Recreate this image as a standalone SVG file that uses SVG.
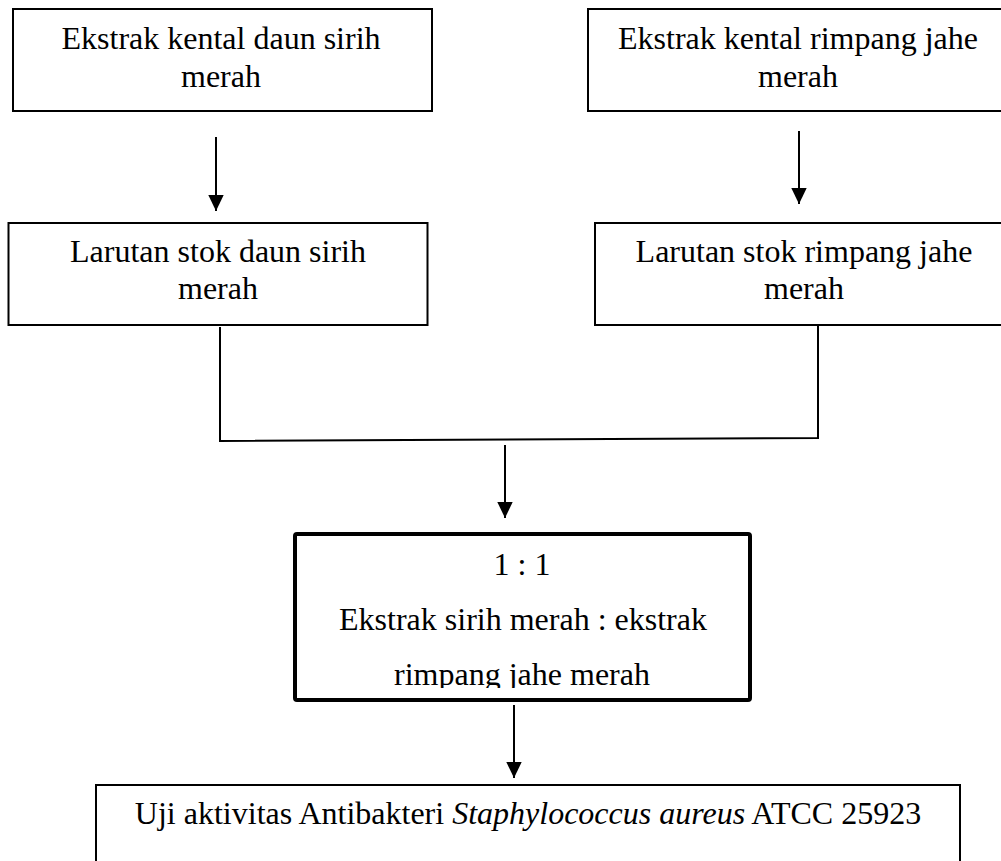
<svg xmlns="http://www.w3.org/2000/svg" width="1001" height="861" viewBox="0 0 1001 861">
  <style>
    .box { fill: #fff; stroke: #000; stroke-width: 2; }
    .thick { fill: #fff; stroke: #000; stroke-width: 4; }
    .t { font-family: "Liberation Serif", "Times New Roman", serif; font-size: 32px; fill: #000; text-anchor: middle; }
    .conn { fill: none; stroke: #000; stroke-width: 2; }
  </style>
  <defs>
    <marker id="arr" viewBox="0 0 16 16" refX="16" refY="8" markerWidth="16" markerHeight="16" markerUnits="userSpaceOnUse" orient="auto">
      <path d="M0,0.3 L16,8 L0,15.7 z" fill="#000"/>
    </marker>
    <clipPath id="clip5">
      <rect x="296" y="536" width="451" height="152"/>
    </clipPath>
  </defs>
  <rect width="1001" height="861" fill="#fff"/>

  <g id="connectors">
    <line class="conn" x1="216" y1="137" x2="216" y2="211" marker-end="url(#arr)"/>
    <line class="conn" x1="799" y1="131" x2="799" y2="204" marker-end="url(#arr)"/>
    <polyline class="conn" points="220,327 220,441 818,438 818,323"/>
    <line class="conn" x1="505" y1="445" x2="505" y2="518" marker-end="url(#arr)"/>
    <line class="conn" x1="514" y1="705" x2="514" y2="778" marker-end="url(#arr)"/>
  </g>

  <g id="node-ekstrak-sirih">
    <rect class="box" x="13" y="9" width="419" height="102"/>
    <text class="t" x="221" y="49">Ekstrak kental daun sirih</text>
    <text class="t" x="221" y="87">merah</text>
  </g>

  <g id="node-ekstrak-jahe">
    <rect class="box" x="588" y="9" width="420" height="102"/>
    <text class="t" x="798" y="49">Ekstrak kental rimpang jahe</text>
    <text class="t" x="798" y="87">merah</text>
  </g>

  <g id="node-larutan-sirih">
    <rect class="box" x="8.5" y="223" width="419" height="102"/>
    <text class="t" x="218" y="262">Larutan stok daun sirih</text>
    <text class="t" x="218" y="299">merah</text>
  </g>

  <g id="node-larutan-jahe">
    <rect class="box" x="595" y="223" width="420" height="102"/>
    <text class="t" x="804" y="262">Larutan stok rimpang jahe</text>
    <text class="t" x="804" y="299">merah</text>
  </g>

  <g id="node-campuran">
    <rect class="thick" x="295" y="534" width="455" height="166" rx="2"/>
    <text class="t" x="522" y="575">1 : 1</text>
    <text class="t" x="523" y="630">Ekstrak sirih merah : ekstrak</text>
    <text class="t" x="522" y="685" clip-path="url(#clip5)">rimpang jahe merah</text>
  </g>

  <g id="node-uji">
    <rect class="box" x="96" y="785" width="864" height="100"/>
    <text class="t" x="528" y="824">Uji aktivitas Antibakteri <tspan font-style="italic">Staphylococcus aureus</tspan> ATCC 25923</text>
  </g>
</svg>
